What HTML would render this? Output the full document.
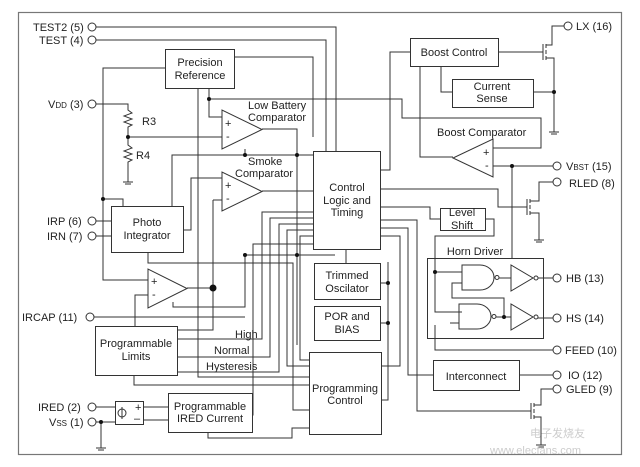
<!DOCTYPE html>
<html><head><meta charset="utf-8"><style>
html,body{margin:0;padding:0;background:#fff;}
svg{display:block;}
text{font-family:"Liberation Sans",Arial,sans-serif;font-size:11px;fill:#222;}
</style></head><body>
<svg width="640" height="467" viewBox="0 0 640 467" xmlns="http://www.w3.org/2000/svg">
<g fill="none" stroke="#333" stroke-width="1">
<rect x="18.5" y="12.5" width="603" height="442" stroke="#777" stroke-width="1.2"/>
<!-- boxes -->
<rect x="165.5" y="49.5" width="69" height="39"/>
<rect x="313.5" y="151.5" width="67" height="98"/>
<rect x="314.5" y="263.5" width="66" height="36"/>
<rect x="314.5" y="306.5" width="66" height="34"/>
<rect x="309.5" y="352.5" width="72" height="82"/>
<rect x="111.5" y="206.5" width="72" height="46"/>
<rect x="95.5" y="326.5" width="82" height="49"/>
<rect x="168.5" y="393.5" width="84" height="39"/>
<rect x="410.5" y="38.5" width="88" height="28"/>
<rect x="452.5" y="79.5" width="81" height="28"/>
<rect x="433.5" y="360.5" width="86" height="30"/>
<rect x="427.5" y="258.5" width="116" height="80"/>
<rect x="440.5" y="208.5" width="45" height="22"/>
<rect x="115.5" y="401.5" width="28" height="23"/>
<!-- opamps -->
<polygon points="222,110 222,149 262,129.5"/>
<polygon points="222,172 222,211 262,191.5"/>
<polygon points="148,269 148,308 187,288.5"/>
<polygon points="493,139 493,177 453,158"/>
<!-- pins -->
<circle cx="92" cy="27" r="4"/><circle cx="92" cy="40" r="4"/><circle cx="92" cy="104" r="4"/>
<circle cx="92" cy="221" r="4"/><circle cx="92" cy="236" r="4"/><circle cx="90" cy="317" r="4"/>
<circle cx="92" cy="407" r="4"/><circle cx="92" cy="422" r="4"/>
<circle cx="568" cy="26" r="4"/><circle cx="557" cy="166" r="4"/><circle cx="557" cy="182" r="4"/>
<circle cx="557" cy="278" r="4"/><circle cx="557" cy="318" r="4"/><circle cx="557" cy="350" r="4"/>
<circle cx="557" cy="375" r="4"/><circle cx="557" cy="389" r="4"/>
<!-- wires -->
<path d="M96,27H336V151M96,40H326V151"/>
<path d="M234,57H313V137"/>
<path d="M165,68H103V280H148M103,199H123V206"/>
<path d="M198,88V377H309"/>
<path d="M209,88V117H222M209,99H402V118H541V148H493"/>
<path d="M96,104H128V110l4,3l-8,3l8,3l-8,3l8,3l-4,2V145l4,3l-8,3l8,3l-8,3l8,3l-4,2V182M123,182h10M125,184h6"/>
<path d="M128,137H222"/>
<path d="M262,129H297V345M245,149V155M172,206V155H297M297,155H313"/>
<path d="M183,230H191V178H222M213,200H222M213,200V330H177M262,191H313"/>
<path d="M187,288H213M173,302V307H245V255M245,255H335"/>
<path d="M135,326V295H148M94,317H245"/>
<path d="M96,221H111M96,236H111M103,236V280"/>
<path d="M148,252V263H293V410H309"/>
<path d="M313,212H262V339H177M313,218H270V357H177M313,224H279V372H177M313,230H287V366H309M313,236H300V360H309M313,244H253V415H252"/>
<path d="M134,375V385H309M208,432V438H292V428H309"/>
<path d="M96,407H115M143,407H168M96,422H115M143,420H168M101,422V448M96,448h10M98,450h6"/>
<path d="M346,249V263M380,283H388M380,323H388M388,262V400H381"/>
<path d="M380,170H390V52H410M420,66V157H453M441,66V92H452"/>
<path d="M498,52H543M543,44V60M546,44v4M546,50v4M546,56v4M546,45H552V26H564M546,58H554V132M533,92H554M549,132h10M551,134h6"/>
<path d="M493,166H553M512,166V258"/>
<path d="M380,189H498V207H527M527,199V215M530,199v4M530,205v4M530,211v4M530,201H539V182H553M530,213H539V240M534,240h10M536,242h6"/>
<path d="M380,207H430V219H440M485,219H494V236H435V312H462M435,272H462M435,325V350H553"/>
<path d="M380,220H417V411H531M380,228H408V375H433M380,236H400V366H381M519,375H553"/>
<path d="M531,403V419M534,403v4M534,409v4M534,415v4M534,405H541V389H553M534,417H541V445M536,445h10M538,447h6"/>
<path d="M462,265H480A14,12.5 0 0 1 480,290H462Z"/>
<circle cx="497" cy="277.5" r="2"/>
<path d="M499,278H511M511,265V291L533,278Z"/><circle cx="536" cy="278" r="2"/><path d="M538,278H553"/>
<path d="M459,304H477A14,12.5 0 0 1 477,329H459Z"/>
<circle cx="494" cy="316.5" r="2"/>
<path d="M496,317H511M511,304V330L533,317Z"/><circle cx="536" cy="317" r="2"/><path d="M538,318H553"/>
<path d="M504,317V298H452V283H462M459,323H450"/>
<circle cx="122" cy="413" r="4"/><path d="M122,407V419"/>
</g>
<g fill="#111">
<circle cx="209" cy="99" r="2"/><circle cx="128" cy="137" r="2"/><circle cx="245" cy="155" r="2"/>
<circle cx="297" cy="155" r="2"/><circle cx="103" cy="199" r="2"/><circle cx="213" cy="288" r="3.5"/>
<circle cx="245" cy="255" r="2"/><circle cx="297" cy="255" r="2"/><circle cx="101" cy="422" r="2"/>
<circle cx="388" cy="283" r="2"/><circle cx="388" cy="323" r="2"/><circle cx="554" cy="92" r="2"/>
<circle cx="512" cy="166" r="2"/><circle cx="435" cy="272" r="2"/><circle cx="504" cy="317" r="2"/>
</g>
<text x="33" y="31">TEST2 (5)</text><text x="39" y="44">TEST (4)</text>
<text x="48" y="108">V<tspan font-size="8">DD</tspan> (3)</text>
<text x="47" y="225">IRP (6)</text><text x="47" y="240">IRN (7)</text>
<text x="22" y="321">IRCAP (11)</text><text x="38" y="411">IRED (2)</text>
<text x="49" y="426">V<tspan font-size="8">SS</tspan> (1)</text>
<text x="200" y="66" text-anchor="middle">Precision</text><text x="200" y="79" text-anchor="middle">Reference</text>
<text x="142" y="125">R3</text><text x="136" y="159">R4</text>
<text x="248" y="109">Low Battery</text><text x="248" y="121">Comparator</text>
<text x="248" y="165">Smoke</text><text x="235" y="177">Comparator</text>
<text x="225" y="127" font-size="9">+</text><text x="226" y="140" font-size="9">-</text>
<text x="225" y="189" font-size="9">+</text><text x="226" y="202" font-size="9">-</text>
<text x="151" y="285" font-size="9">+</text><text x="152" y="298" font-size="9">-</text>
<text x="483" y="156" font-size="9">+</text><text x="485" y="169" font-size="9">-</text>
<text x="147" y="226" text-anchor="middle">Photo</text><text x="147" y="239" text-anchor="middle">Integrator</text>
<text x="347" y="191" text-anchor="middle">Control</text><text x="347" y="204" text-anchor="middle">Logic and</text><text x="347" y="216" text-anchor="middle">Timing</text>
<text x="347" y="279" text-anchor="middle">Trimmed</text><text x="347" y="292" text-anchor="middle">Oscilator</text>
<text x="347" y="320" text-anchor="middle">POR and</text><text x="347" y="333" text-anchor="middle">BIAS</text>
<text x="345" y="392" text-anchor="middle">Programming</text><text x="345" y="404" text-anchor="middle">Control</text>
<text x="136" y="347" text-anchor="middle">Programmable</text><text x="136" y="360" text-anchor="middle">Limits</text>
<text x="235" y="338">High</text><text x="214" y="354">Normal</text><text x="206" y="370">Hysteresis</text>
<text x="210" y="410" text-anchor="middle">Programmable</text><text x="210" y="422" text-anchor="middle">IRED Current</text>
<text x="135" y="411" font-size="10">+</text><text x="134" y="422" font-size="10">–</text>
<text x="454" y="56" text-anchor="middle">Boost Control</text>
<text x="492" y="90" text-anchor="middle">Current</text><text x="492" y="102" text-anchor="middle">Sense</text>
<text x="437" y="136">Boost Comparator</text>
<text x="462" y="216" text-anchor="middle">Level</text><text x="462" y="229" text-anchor="middle">Shift</text>
<text x="475" y="255" text-anchor="middle">Horn Driver</text>
<text x="476" y="380" text-anchor="middle">Interconnect</text>
<text x="576" y="30">LX (16)</text>
<text x="566" y="170">V<tspan font-size="8">BST</tspan> (15)</text>
<text x="569" y="187">RLED (8)</text><text x="566" y="282">HB (13)</text><text x="566" y="322">HS (14)</text>
<text x="565" y="354">FEED (10)</text><text x="568" y="379">IO (12)</text><text x="566" y="393">GLED (9)</text>
<text x="530" y="437" font-size="15" style="fill:#ccc">电子发烧友</text>
<text x="490" y="454" font-size="9" style="fill:#ccc">www.elecfans.com</text>
</svg>
</body></html>
